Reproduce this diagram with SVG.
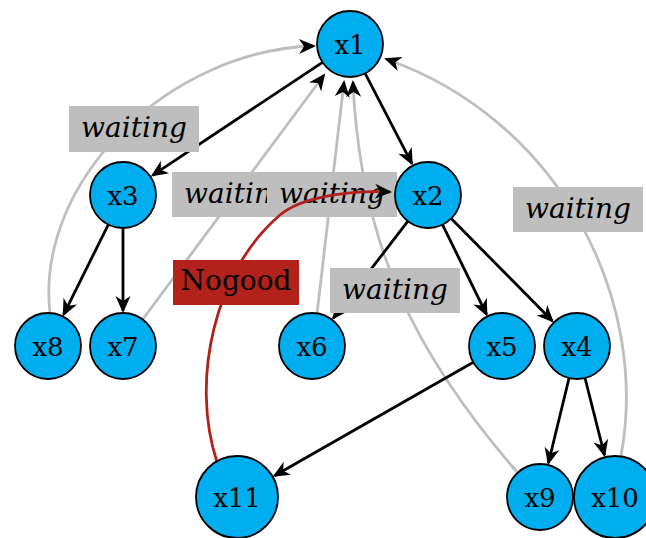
<svg xmlns="http://www.w3.org/2000/svg" width="646" height="538" viewBox="0 0 646 538">
<style>
.node circle{fill:#00aeef;stroke:#000;stroke-width:1.8}
.node text{font-family:"DejaVu Serif",serif;font-size:26px;text-anchor:middle;fill:#000}
.e{fill:none;stroke:#000;stroke-width:2.8;marker-end:url(#ah)}
.w{fill:none;stroke:#bebebe;stroke-width:2.8;marker-end:url(#ah)}
.ng{fill:none;stroke:#b3221a;stroke-width:2.8;marker-end:url(#ah)}
.lbl rect{fill:#bebebe}
.lbl text{font-family:"DejaVu Serif",serif;font-style:italic;font-size:28px;text-anchor:middle;fill:#000}
.nog rect{fill:#b3221a}
.nog text{font-family:"DejaVu Serif",serif;font-size:28px;text-anchor:middle;fill:#000}
</style>
<defs>
<marker id="ah" viewBox="-18 -9 22 18" refX="-2" refY="0" markerWidth="22" markerHeight="18" markerUnits="userSpaceOnUse" orient="auto">
<path d="M0,0 L-17,-7.5 L-12,0 L-17,7.5 Z" fill="#000"/>
</marker>
<clipPath id="clip7"><rect x="172" y="172" width="95" height="45"/></clipPath>
</defs>
<g id="connectors">
<path class="w" d="M50,313 C35,180 170,50 314,46"/>
<path class="w" d="M143,319 L324,75"/>
<path class="w" d="M317,314 L344,82"/>
<path class="w" d="M517,472 C420,360 360,250 353,82"/>
<path class="w" d="M621,456 C650,300 560,120 386,59"/>
<path class="e" d="M322.5,62.3 L152.5,175.4"/>
<path class="e" d="M365.1,73.3 L411.9,163.7"/>
<path class="e" d="M108.3,224.6 L63.6,314.6"/>
<path class="e" d="M123,228 L123,311"/>
<path class="e" d="M407.9,221.2 L333.3,318.2"/>
<path class="e" d="M442.5,224.6 L486.6,314.6"/>
<path class="e" d="M451.2,218.5 L552.4,321"/>
<path class="e" d="M569.1,378 L548.4,463"/>
<path class="e" d="M585,378 L604.5,455.2"/>
<path class="e" d="M473.3,362.3 L274.4,475.7"/>
</g>
<g id="lbl-x8-x1" class="lbl"><rect x="69" y="106" width="130" height="46"/><text x="134" y="137">waiting</text></g>
<g id="lbl-x7-x1" class="lbl"><rect x="172" y="172" width="130" height="45"/><text x="237" y="203" clip-path="url(#clip7)">waiting</text></g>
<g id="lbl-x6-x1" class="lbl"><rect x="267" y="172" width="130" height="45"/><text x="332" y="203">waiting</text></g>
<g id="lbl-x9-x1" class="lbl"><rect x="330" y="268" width="130" height="45"/><text x="395" y="299">waiting</text></g>
<g id="lbl-x10-x1" class="lbl"><rect x="513" y="187" width="130" height="45"/><text x="578" y="218">waiting</text></g>
<g id="nogood-edge">
<path class="ng" d="M217,462 C190,380 215,270 280,215 C300,198 345,190 390,192"/>
</g>
<g id="lbl-nogood" class="nog"><rect x="173" y="260" width="126" height="45"/><text x="236" y="290">Nogood</text></g>
<g id="x1" class="node"><circle cx="350" cy="44" r="33"/><text x="350" y="53.5">x1</text></g>
<g id="x2" class="node"><circle cx="428" cy="195" r="33"/><text x="428" y="204.5">x2</text></g>
<g id="x3" class="node"><circle cx="123" cy="195" r="33"/><text x="123" y="204.5">x3</text></g>
<g id="x8" class="node"><circle cx="48" cy="346" r="33"/><text x="48" y="355.5">x8</text></g>
<g id="x7" class="node"><circle cx="123" cy="346" r="33"/><text x="123" y="355.5">x7</text></g>
<g id="x6" class="node"><circle cx="312" cy="346" r="33"/><text x="312" y="355.5">x6</text></g>
<g id="x5" class="node"><circle cx="502" cy="346" r="33"/><text x="502" y="355.5">x5</text></g>
<g id="x4" class="node"><circle cx="577" cy="346" r="33"/><text x="577" y="355.5">x4</text></g>
<g id="x11" class="node"><circle cx="237" cy="497" r="41"/><text x="237" y="506.5">x11</text></g>
<g id="x9" class="node"><circle cx="540" cy="497" r="33"/><text x="540" y="506.5">x9</text></g>
<g id="x10" class="node"><circle cx="615" cy="497" r="41"/><text x="615" y="506.5">x10</text></g>
</svg>
